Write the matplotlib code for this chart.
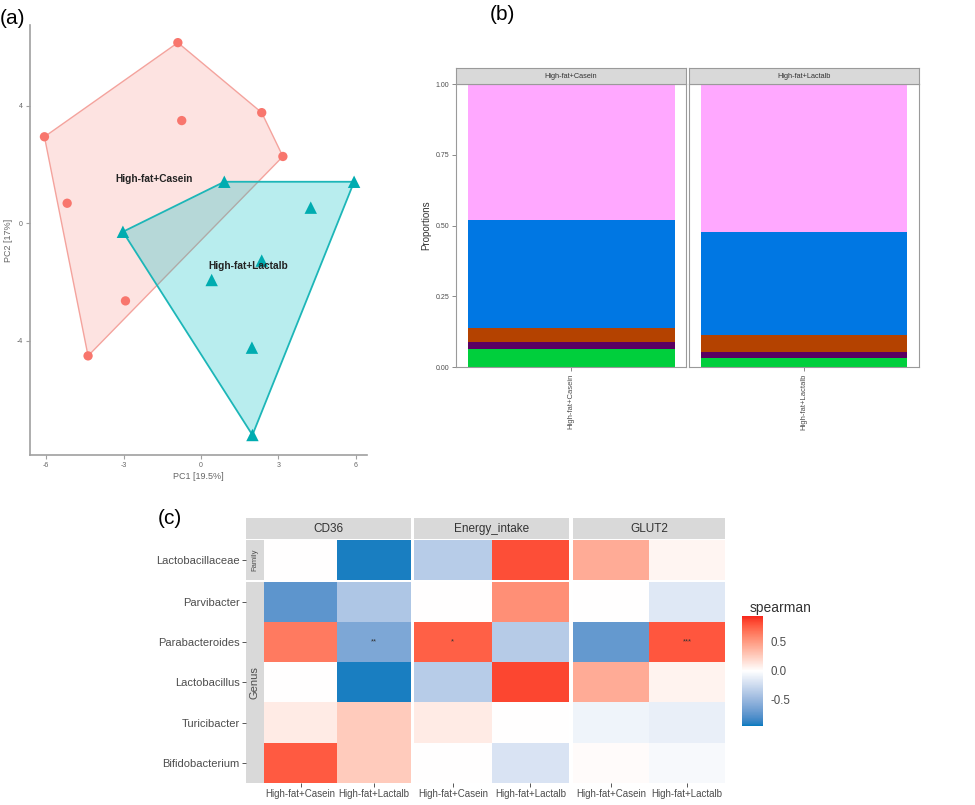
import numpy as np
import matplotlib
matplotlib.use("Agg")
import matplotlib.pyplot as plt
from matplotlib.colors import ListedColormap, Normalize, to_rgb
from matplotlib.cm import ScalarMappable

plt.rcParams['font.family'] = ['Liberation Sans', 'DejaVu Sans']

# ---------------- data ----------------
# (a) PCA scores
casein_pc1 = [-0.90, 2.35, -0.75, -6.07, 3.17, -5.19, -2.93, -4.38]
casein_pc2 = [6.14, 3.76, 3.49, 2.94, 2.27, 0.68, -2.64, -4.51]
lactalb_pc1 = [0.90, 5.93, 4.25, -3.03, 2.35, 0.41, 1.97, 1.99]
lactalb_pc2 = [1.41, 1.41, 0.53, -0.29, -1.27, -1.93, -4.23, -7.20]
pc1_label = "PC1 [19.5%]"
pc2_label = "PC2 [17%]"
pc1_ticks = [-6, -3, 0, 3, 6]
pc2_ticks = [-4, 0, 4]

# (b) stacked proportions (bottom -> top)
groups = ["High-fat+Casein", "High-fat+Lactalb"]
taxa_layers = ["layer_green", "layer_purple", "layer_brown", "layer_blue", "layer_pink"]
layer_colors = ["#00CF3C", "#5A0062", "#B44200", "#0077E3", "#FFA8FF"]
prop_casein = [0.062, 0.026, 0.050, 0.382, 0.480]
prop_lactalb = [0.031, 0.021, 0.061, 0.363, 0.524]
prop_ticks = [0.0, 0.25, 0.5, 0.75, 1.0]

# (c) spearman heatmap
variables = ["CD36", "Energy_intake", "GLUT2"]
taxa = ["Lactobacillaceae", "Parvibacter", "Parabacteroides",
        "Lactobacillus", "Turicibacter", "Bifidobacterium"]
taxa_level = ["Family", "Genus", "Genus", "Genus", "Genus", "Genus"]
# columns: [High-fat+Casein, High-fat+Lactalb]
rho_CD36 = [[0.00, -0.93], [-0.75, -0.40], [0.65, -0.62],
            [0.00, -0.93], [0.10, 0.26], [0.78, 0.26]]
rho_Energy = [[-0.35, 0.83], [0.00, 0.55], [0.76, -0.36],
              [-0.35, 0.86], [0.10, 0.00], [0.00, -0.19]]
rho_GLUT2 = [[0.42, 0.05], [0.00, -0.16], [-0.72, 0.80],
             [0.42, 0.06], [-0.08, -0.11], [0.02, -0.04]]
stars_CD36 = [["", ""], ["", ""], ["", "**"], ["", ""], ["", ""], ["", ""]]
stars_Energy = [["", ""], ["", ""], ["*", ""], ["", ""], ["", ""], ["", ""]]
stars_GLUT2 = [["", ""], ["", ""], ["", "***"], ["", ""], ["", ""], ["", ""]]
cbar_ticks = [-0.5, 0.0, 0.5]

# ---------------- figure ----------------
W, H = 975, 805
fig = plt.figure(figsize=(W / 100, H / 100), dpi=100)


def px_axes(x0, y0, x1, y1):
    return fig.add_axes([x0 / W, 1 - y1 / H, (x1 - x0) / W, (y1 - y0) / H])


def hull(xs, ys):
    pts = sorted(zip(xs, ys))

    def cross(o, a, b):
        return (a[0] - o[0]) * (b[1] - o[1]) - (a[1] - o[1]) * (b[0] - o[0])
    lower, upper = [], []
    for p in pts:
        while len(lower) >= 2 and cross(lower[-2], lower[-1], p) <= 0:
            lower.pop()
        lower.append(p)
    for p in reversed(pts):
        while len(upper) >= 2 and cross(upper[-2], upper[-1], p) <= 0:
            upper.pop()
        upper.append(p)
    h = lower[:-1] + upper[:-1]
    return [p[0] for p in h], [p[1] for p in h]


# ---- Lab interpolation (like ggplot's scale_fill_gradient2) ----
_M = np.array([[0.4124, 0.3576, 0.1805], [0.2126, 0.7152, 0.0722], [0.0193, 0.1192, 0.9505]])
_WP = np.array([0.95047, 1.0, 1.08883])


def _rgb2lab(c):
    c = np.asarray(c, float)
    lin = np.where(c <= 0.04045, c / 12.92, ((c + 0.055) / 1.055) ** 2.4)
    xyz = _M @ lin / _WP
    f = np.where(xyz > (6 / 29) ** 3, np.cbrt(xyz), xyz / (3 * (6 / 29) ** 2) + 4 / 29)
    return np.array([116 * f[1] - 16, 500 * (f[0] - f[1]), 200 * (f[1] - f[2])])


def _lab2rgb(lab):
    L, a, b = lab
    fy = (L + 16) / 116
    f = np.array([fy + a / 500, fy, fy - b / 200])
    xyz = np.where(f > 6 / 29, f ** 3, 3 * (6 / 29) ** 2 * (f - 4 / 29)) * _WP
    lin = np.linalg.solve(_M, xyz)
    lin = np.clip(lin, 0, 1)
    c = np.where(lin <= 0.0031308, 12.92 * lin, 1.055 * lin ** (1 / 2.4) - 0.055)
    return np.clip(c, 0, 1)


def lab_diverging(low, mid, high, n=256):
    lo, mi, hi = (_rgb2lab(to_rgb(x)) for x in (low, mid, high))
    cols = []
    for t in np.linspace(0, 1, n):
        if t < 0.5:
            lab = lo + (mi - lo) * (t / 0.5)
        else:
            lab = mi + (hi - mi) * ((t - 0.5) / 0.5)
        cols.append(_lab2rgb(lab))
    return ListedColormap(cols)


GREY_TXT = "#4D4D4D"

# ---------- panel (a) ----------
axa = px_axes(30, 25, 367, 455)
axa.set_xlim(-6.63, 6.43)
axa.set_ylim(-7.88, 6.74)
hx, hy = hull(casein_pc1, casein_pc2)
axa.fill(hx, hy, facecolor="#F8766D", alpha=0.2, edgecolor="none", zorder=1)
axa.fill(hx, hy, facecolor="none", edgecolor="#F4A39D", lw=1.0, zorder=2)
hx2, hy2 = hull(lactalb_pc1, lactalb_pc2)
axa.fill(hx2, hy2, facecolor="#00BFC4", alpha=0.28, edgecolor="none", zorder=3)
axa.fill(hx2, hy2, facecolor="none", edgecolor="#1DB6B8", lw=1.3, zorder=4)
axa.scatter(casein_pc1, casein_pc2, s=45, marker="o", color="#F8766D",
            edgecolors="none", zorder=5)
axa.scatter(lactalb_pc1, lactalb_pc2, s=80, marker="^", color="#00ACB0",
            edgecolors="none", zorder=5)
axa.text(np.mean(casein_pc1), np.mean(casein_pc2), groups[0], ha="center",
         va="center", fontsize=7.3, fontweight="bold", color="#222222", zorder=6)
axa.text(np.mean(lactalb_pc1), np.mean(lactalb_pc2), groups[1], ha="center",
         va="center", fontsize=7.3, fontweight="bold", color="#222222", zorder=6)
for s in ["top", "right"]:
    axa.spines[s].set_visible(False)
for s in ["left", "bottom"]:
    axa.spines[s].set_color("#A0A0A0")
    axa.spines[s].set_linewidth(1.2)
axa.set_xticks(pc1_ticks)
axa.set_yticks(pc2_ticks)
axa.set_xticklabels([str(t) for t in pc1_ticks])
axa.set_yticklabels([str(t) for t in pc2_ticks])
axa.tick_params(length=3, width=0.8, color="#A0A0A0", labelsize=5,
                labelcolor="#666666", pad=2)
axa.set_xlabel(pc1_label, fontsize=6.5, color="#666666", labelpad=2)
axa.set_ylabel(pc2_label, fontsize=6.5, color="#666666", labelpad=3)

# ---------- panel (b) ----------
panel_x = [(456, 686), (689, 919)]
props = [prop_casein, prop_lactalb]
for i, (x0, x1) in enumerate(panel_x):
    ax = px_axes(x0, 84.3, x1, 367)
    cum = 0.0
    for v, c in zip(props[i], layer_colors):
        ax.bar(0, v, width=0.9, bottom=cum, color=c, edgecolor="none")
        cum += v
    ax.set_xlim(-0.5, 0.5)
    ax.set_ylim(0, 1)
    for s in ax.spines.values():
        s.set_color("#9A9A9A")
        s.set_linewidth(0.8)
    ax.set_xticks([0])
    ax.set_xticklabels([groups[i]], rotation=90, fontsize=5.5, color=GREY_TXT)
    if i == 0:
        ax.set_yticks(prop_ticks)
        ax.set_yticklabels(["%.2f" % t for t in prop_ticks], fontsize=5, color=GREY_TXT)
        ax.set_ylabel("Proportions", fontsize=7, color="#333333", labelpad=3)
    else:
        ax.set_yticks([])
    ax.tick_params(length=3, width=0.6, color="#777777", pad=2)
    st = px_axes(x0, 68.3, x1, 84.3)
    st.set_facecolor("#D9D9D9")
    st.set_xticks([])
    st.set_yticks([])
    for s in st.spines.values():
        s.set_color("#9A9A9A")
        s.set_linewidth(0.8)
    st.text(0.5, 0.5, groups[i], ha="center", va="center", fontsize=5.3,
            color="#333333", transform=st.transAxes)

# ---------- panel (c) ----------
cmap = lab_diverging("#0A7CC0", "#FFFFFF", "#F6231B")
norm = Normalize(vmin=-0.95, vmax=0.95)
facet_x = [(264, 410.7), (414, 569.3), (573.3, 725)]
strip_x = [(246, 410.7), (414, 569.3), (573.3, 725)]
row_groups = [("Family", 540, 580), ("Genus", 581.5, 783)]
rho_all = [rho_CD36, rho_Energy, rho_GLUT2]
stars_all = [stars_CD36, stars_Energy, stars_GLUT2]

for j, var in enumerate(variables):
    x0, x1 = facet_x[j]
    for level, y0, y1 in row_groups:
        idx = [k for k, t in enumerate(taxa_level) if t == level]
        data = np.array([rho_all[j][k] for k in idx])
        ax = px_axes(x0, y0, x1, y1)
        n = len(idx)
        ax.pcolormesh(np.arange(3) - 0.5, np.arange(n + 1) - 0.5, data,
                      cmap=cmap, norm=norm, edgecolors="none")
        for r, k in enumerate(idx):
            for c in range(2):
                if stars_all[j][k][c]:
                    ax.text(c, r, stars_all[j][k][c], ha="center", va="center",
                            fontsize=5.5, color="#333333")
        ax.set_xlim(-0.5, 1.5)
        ax.set_ylim(n - 0.5, -0.5)
        for s in ax.spines.values():
            s.set_visible(False)
        ax.set_yticks([])
        if level == "Genus":
            ax.set_xticks([0, 1])
            ax.set_xticklabels(groups, fontsize=7, color=GREY_TXT)
            ax.tick_params(axis="x", length=3, width=0.7, color="#555555", pad=1.5)
        else:
            ax.set_xticks([])
        # row strip + y labels on the first facet
        if j == 0:
            rs = px_axes(246, y0, 264, y1)
            rs.set_facecolor("#D9D9D9")
            rs.set_xlim(0, 1)
            rs.set_ylim(n - 0.5, -0.5)
            rs.set_xticks([])
            rs.set_yticks(range(n))
            rs.set_yticklabels([taxa[k] for k in idx], fontsize=8, color=GREY_TXT)
            rs.tick_params(axis="y", length=3, width=0.7, color="#555555", pad=1.5)
            for s in rs.spines.values():
                s.set_visible(False)
            rs.text(0.5, 0.5, level, rotation=90, ha="center", va="center",
                    fontsize=5.5 if level == "Family" else 8, color=GREY_TXT,
                    transform=rs.transAxes)
    sx0, sx1 = strip_x[j]
    st = px_axes(sx0, 518, sx1, 539)
    st.set_facecolor("#D9D9D9")
    st.set_xticks([])
    st.set_yticks([])
    for s in st.spines.values():
        s.set_visible(False)
    st.text(0.5, 0.5, var, ha="center", va="center", fontsize=8.5,
            color="#333333", transform=st.transAxes)

cax = px_axes(741.7, 616, 763.3, 725.7)
cb = fig.colorbar(ScalarMappable(norm=norm, cmap=cmap), cax=cax)
cb.outline.set_visible(False)
cb.set_ticks(cbar_ticks)
cb.set_ticklabels(["%.1f" % t if t >= 0 else "-%.1f" % abs(t) for t in cbar_ticks])
cax.tick_params(length=0, labelsize=8.3, labelcolor=GREY_TXT, pad=5)
fig.text(750 / W, 1 - 608 / H, "spearman", ha="left", va="center", fontsize=10,
         color="#333333")

# panel letters
fig.text(0 / W, 1 - 18 / H, "(a)", ha="left", va="center", fontsize=15)
fig.text(490 / W, 1 - 14 / H, "(b)", ha="left", va="center", fontsize=15)
fig.text(158 / W, 1 - 518 / H, "(c)", ha="left", va="center", fontsize=15)

fig.savefig("out.png", dpi=100)
